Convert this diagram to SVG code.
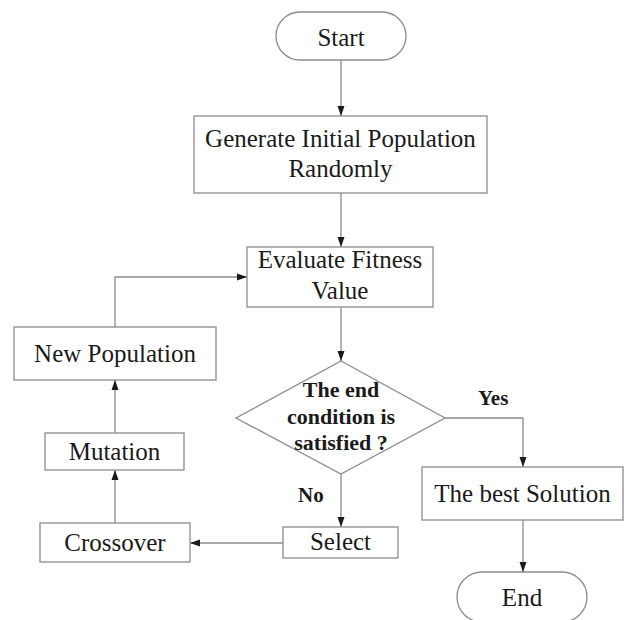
<svg xmlns="http://www.w3.org/2000/svg" width="628" height="620" viewBox="0 0 628 620">
<style>
.box{fill:#fff;stroke:#8c8c8c;stroke-width:1.3}
.t{font-family:"Liberation Serif","Times New Roman",serif;font-size:25px;fill:#1a1a1a;text-anchor:middle}
.b{font-family:"Liberation Serif","Times New Roman",serif;font-size:22px;font-weight:bold;fill:#1a1a1a;text-anchor:middle}
.lb{font-family:"Liberation Serif","Times New Roman",serif;font-size:21px;font-weight:bold;fill:#1a1a1a}
.c{fill:none;stroke:#8c8c8c;stroke-width:1.3;marker-end:url(#ah)}
</style>
<defs>
<marker id="ah" markerUnits="userSpaceOnUse" markerWidth="10" markerHeight="8" refX="10" refY="4" orient="auto">
<path d="M0,0.5 L10,4 L0,7.5 z" fill="#1a1a1a"/>
</marker>
</defs>
<rect width="628" height="620" fill="#fff"/>
<g id="connectors">
<path class="c" d="M341,60 V116"/>
<path class="c" d="M341,193 V247"/>
<path class="c" d="M341,307 V361"/>
<path class="c" d="M341,474 V527"/>
<path class="c" d="M445,418 H523 V467"/>
<path class="c" d="M523,520 V572"/>
<path class="c" d="M283,543 H190"/>
<path class="c" d="M115,523 V470"/>
<path class="c" d="M115,433 V380"/>
<path class="c" d="M115,327 V277 H247"/>
<text class="lb" x="298" y="502">No</text>
<text class="lb" x="478" y="405">Yes</text>
</g>
<g id="start">
<rect class="box" x="276" y="12" width="130" height="48" rx="24"/>
<text class="t" x="341" y="46">Start</text>
</g>
<g id="generate">
<rect class="box" x="194" y="116" width="293" height="77"/>
<text class="t" x="340.5" y="147">Generate Initial Population</text>
<text class="t" x="340.5" y="177">Randomly</text>
</g>
<g id="evaluate">
<rect class="box" x="247" y="247" width="186" height="60"/>
<text class="t" x="340" y="268">Evaluate Fitness</text>
<text class="t" x="340" y="299">Value</text>
</g>
<g id="condition">
<polygon class="box" points="341,361 445,418 341,474 236,418"/>
<text class="b" x="341" y="397">The end</text>
<text class="b" x="341" y="424">condition is</text>
<text class="b" x="341" y="450">satisfied ?</text>
</g>
<g id="select">
<rect class="box" x="283" y="527" width="115" height="31"/>
<text class="t" x="340.5" y="550">Select</text>
</g>
<g id="crossover">
<rect class="box" x="40" y="523" width="150" height="39"/>
<text class="t" x="115" y="551">Crossover</text>
</g>
<g id="mutation">
<rect class="box" x="45" y="433" width="139" height="37"/>
<text class="t" x="114.5" y="460">Mutation</text>
</g>
<g id="newpop">
<rect class="box" x="14" y="327" width="202" height="53"/>
<text class="t" x="115" y="362">New Population</text>
</g>
<g id="best">
<rect class="box" x="422" y="467" width="201" height="53"/>
<text class="t" x="522.5" y="502">The best Solution</text>
</g>
<g id="end">
<rect class="box" x="457" y="572" width="130" height="50" rx="25"/>
<text class="t" x="522" y="606">End</text>
</g>
</svg>
